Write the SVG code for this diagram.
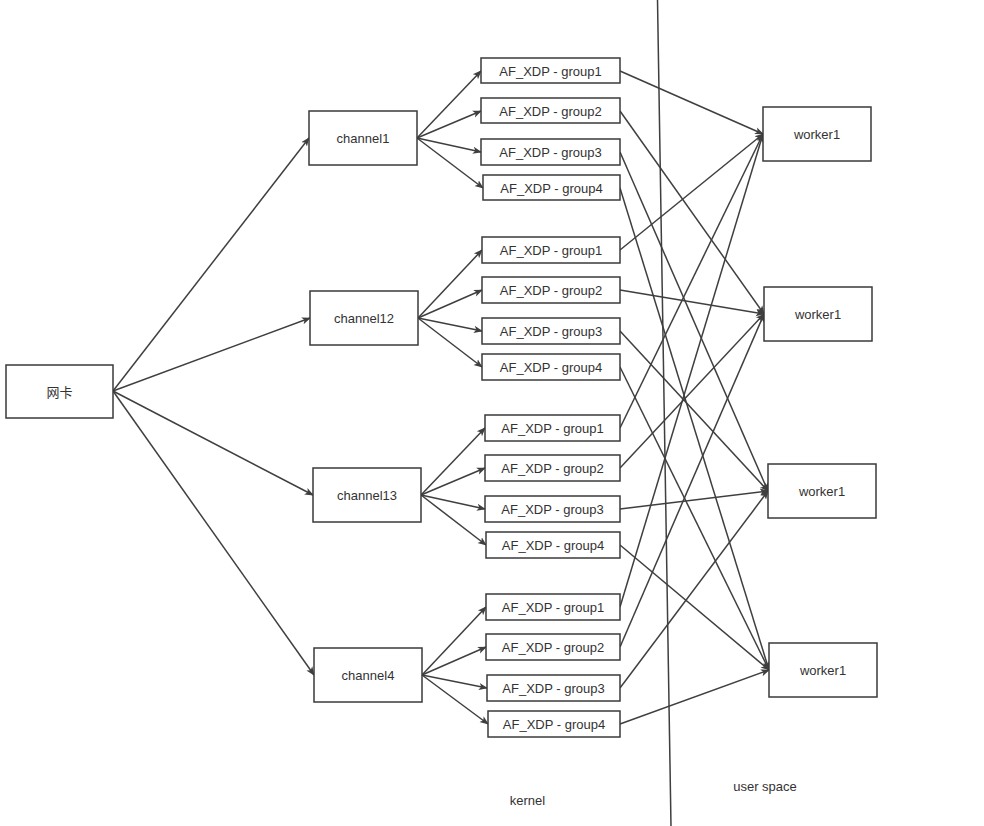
<svg xmlns="http://www.w3.org/2000/svg" width="984" height="826" viewBox="0 0 984 826">
<defs>
<style>
.box{fill:#fff;stroke:#3a3a3a;stroke-width:1.5}
.t{font-family:"Liberation Sans",Arial,"Noto Sans CJK SC",sans-serif;font-size:13px;fill:#333;text-anchor:middle;dominant-baseline:central}
.e{fill:none;stroke:#3f3f3f;stroke-width:1.5;marker-end:url(#ah)}
.sep{fill:none;stroke:#3f3f3f;stroke-width:1.5}
</style>
<marker id="ah" viewBox="0 0 10 10" refX="9" refY="5" markerWidth="9" markerHeight="9" markerUnits="userSpaceOnUse" orient="auto">
<path d="M0,1 L10,5 L0,9 L2.5,5 Z" fill="#3f3f3f"/>
</marker>
</defs>
<rect width="984" height="826" fill="#fff"/>
<g id="connectors">
<line class="sep" x1="657.5" y1="0" x2="671" y2="826"/>
<line class="e" x1="113" y1="391" x2="309" y2="138"/>
<line class="e" x1="113" y1="391" x2="310" y2="318"/>
<line class="e" x1="113" y1="391" x2="313" y2="495"/>
<line class="e" x1="113" y1="391" x2="314" y2="675"/>
<line class="e" x1="417" y1="138" x2="481" y2="71"/>
<line class="e" x1="417" y1="138" x2="481" y2="111"/>
<line class="e" x1="417" y1="138" x2="481" y2="152"/>
<line class="e" x1="417" y1="138" x2="483" y2="188"/>
<line class="e" x1="418" y1="318" x2="482" y2="250"/>
<line class="e" x1="418" y1="318" x2="482" y2="290"/>
<line class="e" x1="418" y1="318" x2="482" y2="331"/>
<line class="e" x1="418" y1="318" x2="482" y2="367"/>
<line class="e" x1="421" y1="495" x2="485" y2="428"/>
<line class="e" x1="421" y1="495" x2="485" y2="468"/>
<line class="e" x1="421" y1="495" x2="485" y2="509"/>
<line class="e" x1="421" y1="495" x2="486" y2="545"/>
<line class="e" x1="422" y1="675" x2="486" y2="607"/>
<line class="e" x1="422" y1="675" x2="486" y2="647"/>
<line class="e" x1="422" y1="675" x2="487" y2="688"/>
<line class="e" x1="422" y1="675" x2="488" y2="724"/>
<line class="e" x1="620" y1="71" x2="763" y2="134"/>
<line class="e" x1="620" y1="111" x2="764" y2="314"/>
<line class="e" x1="620" y1="152" x2="768" y2="491"/>
<line class="e" x1="620" y1="188" x2="769" y2="670"/>
<line class="e" x1="620" y1="250" x2="763" y2="134"/>
<line class="e" x1="620" y1="290" x2="764" y2="314"/>
<line class="e" x1="620" y1="331" x2="768" y2="491"/>
<line class="e" x1="620" y1="367" x2="769" y2="670"/>
<line class="e" x1="620" y1="428" x2="763" y2="134"/>
<line class="e" x1="620" y1="468" x2="764" y2="314"/>
<line class="e" x1="620" y1="509" x2="768" y2="491"/>
<line class="e" x1="620" y1="545" x2="769" y2="670"/>
<line class="e" x1="620" y1="607" x2="763" y2="134"/>
<line class="e" x1="620" y1="647" x2="764" y2="314"/>
<line class="e" x1="620" y1="688" x2="768" y2="491"/>
<line class="e" x1="620" y1="724" x2="769" y2="670"/>
</g>
<g id="nic"><rect class="box" x="6" y="365" width="107" height="53"/><text class="t" x="59.5" y="392">网卡</text></g>
<g id="channel1"><rect class="box" x="309" y="111" width="108" height="54"/><text class="t" x="363" y="138">channel1</text></g>
<g id="channel12"><rect class="box" x="310" y="291" width="108" height="54"/><text class="t" x="364" y="318">channel12</text></g>
<g id="channel13"><rect class="box" x="313" y="468" width="108" height="54"/><text class="t" x="367" y="495">channel13</text></g>
<g id="channel4"><rect class="box" x="314" y="648" width="108" height="54"/><text class="t" x="368" y="675">channel4</text></g>
<g id="c1g1"><rect class="box" x="481" y="58" width="139" height="25"/><text class="t" x="550.5" y="71">AF_XDP - group1</text></g>
<g id="c1g2"><rect class="box" x="481" y="98" width="139" height="25"/><text class="t" x="550.5" y="111">AF_XDP - group2</text></g>
<g id="c1g3"><rect class="box" x="481" y="139" width="139" height="26"/><text class="t" x="550.5" y="152">AF_XDP - group3</text></g>
<g id="c1g4"><rect class="box" x="483" y="175" width="137" height="25"/><text class="t" x="551.5" y="188">AF_XDP - group4</text></g>
<g id="c2g1"><rect class="box" x="482" y="237" width="138" height="26"/><text class="t" x="551" y="250">AF_XDP - group1</text></g>
<g id="c2g2"><rect class="box" x="482" y="277" width="138" height="26"/><text class="t" x="551" y="290">AF_XDP - group2</text></g>
<g id="c2g3"><rect class="box" x="482" y="318" width="138" height="26"/><text class="t" x="551" y="331">AF_XDP - group3</text></g>
<g id="c2g4"><rect class="box" x="482" y="354" width="138" height="26"/><text class="t" x="551" y="367">AF_XDP - group4</text></g>
<g id="c3g1"><rect class="box" x="485" y="415" width="135" height="26"/><text class="t" x="552.5" y="428">AF_XDP - group1</text></g>
<g id="c3g2"><rect class="box" x="485" y="455" width="135" height="26"/><text class="t" x="552.5" y="468">AF_XDP - group2</text></g>
<g id="c3g3"><rect class="box" x="485" y="496" width="135" height="26"/><text class="t" x="552.5" y="509">AF_XDP - group3</text></g>
<g id="c3g4"><rect class="box" x="486" y="532" width="134" height="26"/><text class="t" x="553" y="545">AF_XDP - group4</text></g>
<g id="c4g1"><rect class="box" x="486" y="594" width="134" height="26"/><text class="t" x="553" y="607">AF_XDP - group1</text></g>
<g id="c4g2"><rect class="box" x="486" y="634" width="134" height="26"/><text class="t" x="553" y="647">AF_XDP - group2</text></g>
<g id="c4g3"><rect class="box" x="487" y="675" width="133" height="26"/><text class="t" x="553.5" y="688">AF_XDP - group3</text></g>
<g id="c4g4"><rect class="box" x="488" y="711" width="132" height="26"/><text class="t" x="554" y="724">AF_XDP - group4</text></g>
<g id="worker_a"><rect class="box" x="763" y="107" width="108" height="54"/><text class="t" x="817" y="134">worker1</text></g>
<g id="worker_b"><rect class="box" x="764" y="287" width="108" height="54"/><text class="t" x="818" y="314">worker1</text></g>
<g id="worker_c"><rect class="box" x="768" y="464" width="108" height="54"/><text class="t" x="822" y="491">worker1</text></g>
<g id="worker_d"><rect class="box" x="769" y="643" width="108" height="54"/><text class="t" x="823" y="670">worker1</text></g>
<g id="labels">
<text class="t" x="527.5" y="800">kernel</text>
<text class="t" x="765" y="786">user space</text>
</g>
</svg>
